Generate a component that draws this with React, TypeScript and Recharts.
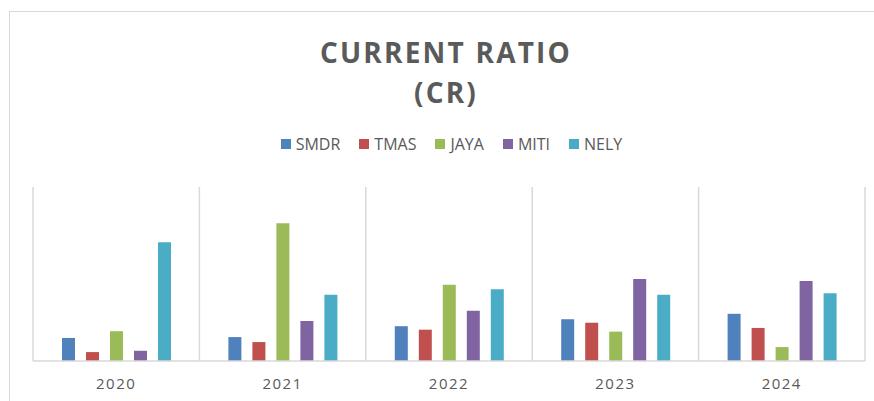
import React from "react";
import { BarChart, Bar, XAxis, YAxis, CartesianGrid } from "recharts";

const years = ["2020", "2021", "2022", "2023", "2024"];
const SMDR = [1.06, 1.1, 1.6, 1.92, 2.17];
const TMAS = [0.41, 0.87, 1.44, 1.76, 1.52];
const JAYA = [1.37, 6.33, 3.51, 1.35, 0.64];
const MITI = [0.47, 1.84, 2.31, 3.77, 3.68];
const NELY = [5.46, 3.05, 3.3, 3.05, 3.11];

const seriesNames = ["SMDR", "TMAS", "JAYA", "MITI", "NELY"];
const seriesColors = ["#4f81bd", "#c0504d", "#9bbb59", "#8064a2", "#4bacc6"];
const seriesValues = [SMDR, TMAS, JAYA, MITI, NELY];

const data = years.map((y, i) => {
  const row: Record<string, any> = { year: y, idx: i + 0.5 };
  seriesNames.forEach((n, k) => {
    row[n] = seriesValues[k][i];
  });
  return row;
});

const FONT = "'Open Sans', sans-serif";

const LegendContent = () => (
  <div
    style={{
      display: "flex",
      justifyContent: "center",
      alignItems: "center",
      fontFamily: FONT,
      fontSize: 16,
      color: "#595959",
    }}
  >
    {seriesNames.map((n, k) => (
      <div key={n} style={{ display: "flex", alignItems: "center", marginRight: k < 4 ? 19 : 0 }}>
        <span
          style={{
            display: "inline-block",
            width: 10,
            height: 10,
            background: seriesColors[k],
            marginRight: 5,
          }}
        />
        <span>{n}</span>
      </div>
    ))}
  </div>
);

export default function App() {
  return (
    <div
      style={{
        position: "absolute",
        left: 0,
        top: 0,
        width: 874,
        height: 401,
        overflow: "hidden",
        background: "#fff",
      }}
    >
      <div
        style={{
          position: "absolute",
          left: 9,
          top: 11,
          width: 900,
          height: 420,
          border: "1.5px solid #d9d9d9",
          boxSizing: "border-box",
        }}
      />
      <div
        style={{
          position: "absolute",
          left: 246,
          width: 400,
          top: 32,
          textAlign: "center",
          fontFamily: FONT,
          fontWeight: 700,
          fontSize: 28,
          lineHeight: "40px",
          letterSpacing: 2.2,
          color: "#5a5a5a",
        }}
      >
        CURRENT RATIO
        <br />
        (CR)
      </div>
      <div style={{ position: "absolute", left: 200, top: 133, width: 503 }}>
        <LegendContent />
      </div>
      <div style={{ position: "absolute", left: 0, top: 0 }}>
        <BarChart
          width={874}
          height={401}
          data={data}
          margin={{ top: 187, right: 9, bottom: 10, left: 33 }}
          barGap={11}
        >
          <XAxis
            xAxisId="grid"
            type="number"
            dataKey="idx"
            domain={[0, 5]}
            ticks={[0, 1, 2, 3, 4, 5]}
            hide
          />
          <CartesianGrid
            xAxisId="grid"
            horizontal={false}
            vertical={true}
            stroke="#d9d9d9"
            strokeWidth={1.5}
          />
          <XAxis
            dataKey="year"
            height={30}
            axisLine={{ stroke: "#d9d9d9", strokeWidth: 1.5 }}
            tickLine={false}
            tickMargin={11}
            tick={{ fill: "#595959", fontSize: 15, fontFamily: FONT, letterSpacing: 1.5 }}
          />
          <YAxis hide domain={[0, 8]} />
          {seriesNames.map((n, k) => (
            <Bar
              key={n}
              dataKey={n}
              fill={seriesColors[k]}
              barSize={13}
              isAnimationActive={false}
            />
          ))}
        </BarChart>
      </div>
    </div>
  );
}
